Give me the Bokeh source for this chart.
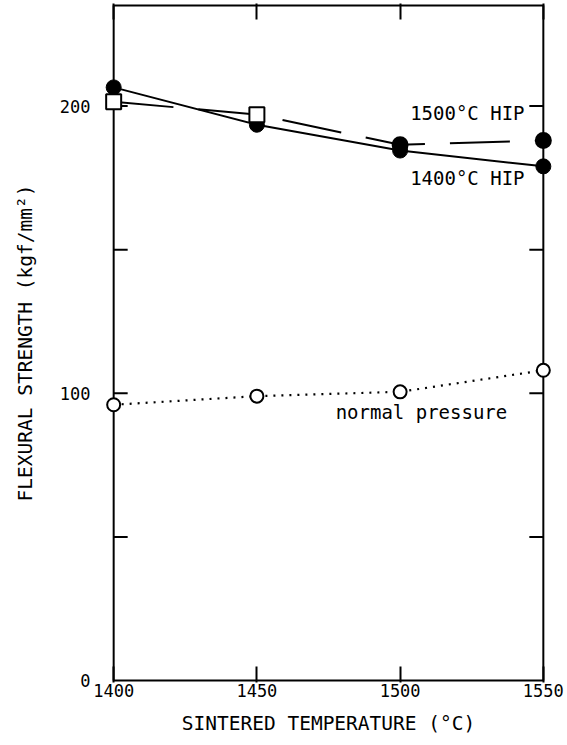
from bokeh.plotting import figure
from bokeh.models import Range1d, FixedTicker, LinearAxis, Label, ColumnDataSource, BoxAnnotation
from bokeh.embed import file_html
from bokeh.resources import INLINE

# Data
temps = [1400, 1450, 1500, 1550]
hip1400 = [206.5, 193.5, 184.5, 179.0]
hip1500 = [201.5, 197.0, 186.5, 188.0]
hip1500_markers = ["square", "square", "circle", "circle"]
hip1500_fill = ["white", "white", "black", "black"]
normal = [96.0, 99.0, 100.5, 108.0]
x_ticks = [1400, 1450, 1500, 1550]
y_major = [0, 100, 200]
y_minor = [50, 150]
x_min, x_max, y_min, y_max = 1400, 1550, 0, 235

FONT = "DejaVu Sans Mono"
PADX = 3.2   # room so edge markers are not clipped
PADY = 0.7
PX_PER_X = 448 / (x_max - x_min + 2 * PADX)
TICK_LEN = 14 / PX_PER_X

p = figure(width=567, height=745, output_backend="svg", toolbar_location=None,
           x_range=Range1d(x_min - PADX, x_max + PADX),
           y_range=Range1d(y_min - PADY, y_max + PADY),
           min_border_left=104, min_border_right=15, min_border_top=3, min_border_bottom=63,
           x_axis_label="SINTERED TEMPERATURE (°C)",
           y_axis_label="FLEXURAL STRENGTH (kgf/mm²)")
p.grid.visible = False
p.outline_line_color = None
p.background_fill_color = "white"
p.border_fill_color = "white"

box = BoxAnnotation(left=x_min, right=x_max, bottom=y_min, top=y_max,
                    fill_alpha=0, line_color="black", line_alpha=1, line_width=2,
                    level="underlay")
p.add_layout(box)

def style(ax):
    ax.axis_line_color = None
    ax.major_tick_in = 16
    ax.major_tick_out = 0
    ax.minor_tick_in = 0
    ax.minor_tick_out = 0
    ax.major_tick_line_color = "black"
    ax.major_tick_line_width = 2
    ax.major_label_text_font = FONT
    ax.major_label_text_font_size = "17px"
    ax.major_label_text_color = "black"
    ax.axis_label_text_font = FONT
    ax.axis_label_text_font_size = "19.5px"
    ax.axis_label_text_font_style = "normal"
    ax.axis_label_text_color = "black"

p.xaxis.ticker = FixedTicker(ticks=x_ticks)
p.yaxis.ticker = FixedTicker(ticks=y_major)
for ax in p.xaxis:
    style(ax)
    ax.major_label_standoff = 1
    ax.axis_label_standoff = 12
for ax in p.yaxis:
    style(ax)
    ax.major_tick_in = 0
    ax.major_tick_line_color = None
    ax.major_label_standoff = 14
    ax.axis_label_standoff = 20

top = LinearAxis(ticker=FixedTicker(ticks=x_ticks),
                 major_label_overrides={t: "" for t in x_ticks})
style(top)
p.add_layout(top, "above")

# y tick marks on the left and right edges of the box, pointing inward
y_tick_pos = sorted(y_major[1:] + y_minor)
p.segment(x0=[x_min] * len(y_tick_pos), y0=y_tick_pos,
          x1=[x_min + TICK_LEN] * len(y_tick_pos), y1=y_tick_pos,
          line_color="black", line_width=2)
p.segment(x0=[x_max] * len(y_tick_pos), y0=y_tick_pos,
          x1=[x_max - TICK_LEN] * len(y_tick_pos), y1=y_tick_pos,
          line_color="black", line_width=2)

# Normal pressure
p.line(temps, normal, line_color="black", line_width=2.2, line_dash="2 6")
p.scatter(temps, normal, marker="circle", size=13, fill_color="white",
          line_color="black", line_width=2)

# 1400 HIP
p.line(temps, hip1400, line_color="black", line_width=2)
p.scatter(temps, hip1400, marker="circle", size=15, fill_color="black", line_color="black")

# 1500 HIP
src = ColumnDataSource(dict(x=temps, y=hip1500, m=hip1500_markers, f=hip1500_fill))
p.line(temps, hip1500, line_color="black", line_width=2, line_dash="60 25")
p.scatter("x", "y", source=src, marker="m", size=15, fill_color="f",
          line_color="black", line_width=2)

def lab(x, y, t):
    p.add_layout(Label(x=x, y=y, text=t, text_font=FONT, text_font_size="19px",
                       text_color="black", text_baseline="middle", text_align="left"))

lab(1503.5, 197.5, "1500°C HIP")
lab(1503.5, 175.0, "1400°C HIP")
lab(1477.5, 93.5, "normal pressure")

open("out.html", "w").write(file_html(p, INLINE))
